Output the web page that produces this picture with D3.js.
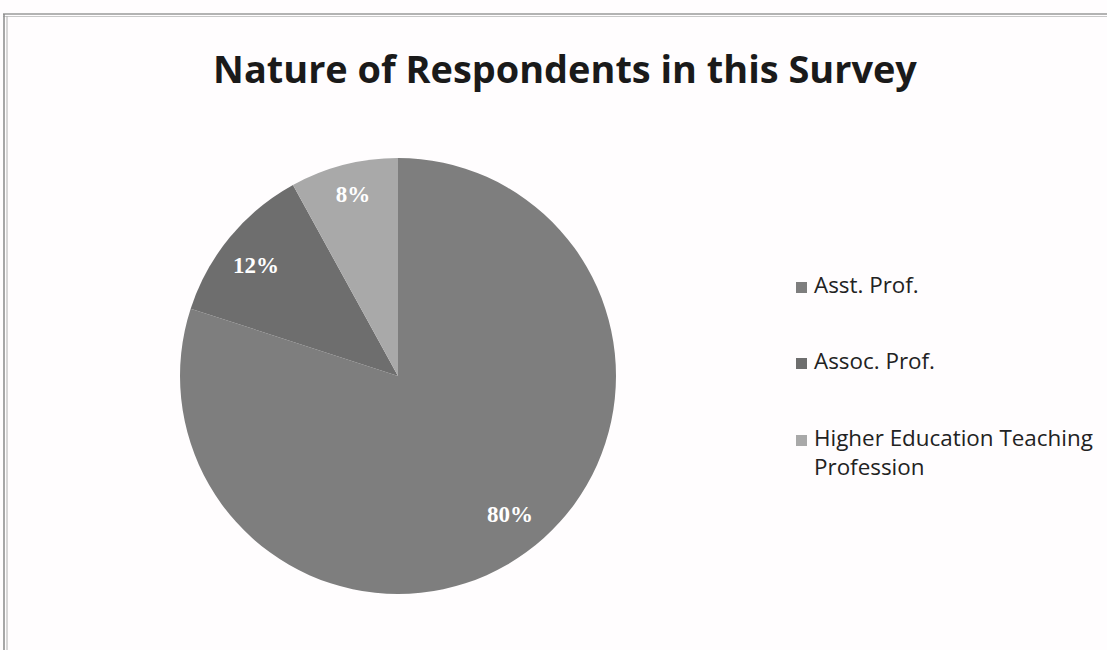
<!DOCTYPE html>
<html><head><meta charset="utf-8">
<script src="https://cdn.jsdelivr.net/npm/d3@7"></script>
<style>body{margin:0;background:#fff}svg{display:block}</style>
</head><body>
<svg id="c" width="1107" height="650"></svg>
<script>
const categories = ["Asst. Prof.", "Assoc. Prof.", "Higher Education Teaching Profession"];
const values = [80, 12, 8];
const labels = ["80%", "12%", "8%"];
const colors = ["#7e7e7e", "#6e6e6e", "#a9a9a9"];

const svg = d3.select("#c");
svg.append("rect").attr("width",1107).attr("height",650).attr("fill","#fffdfe");
// frame lines
svg.append("line").attr("x1",3).attr("x2",1107).attr("y1",14).attr("y2",14).attr("stroke","#9a9a9a").attr("stroke-width",1.5);
svg.append("line").attr("x1",3).attr("x2",1107).attr("y1",16.5).attr("y2",16.5).attr("stroke","#c8c8c8").attr("stroke-width",1);
svg.append("line").attr("x1",4).attr("x2",4).attr("y1",14).attr("y2",650).attr("stroke","#8a8a8a").attr("stroke-width",1.5);
svg.append("line").attr("x1",7).attr("x2",7).attr("y1",16).attr("y2",650).attr("stroke","#b0b0b0").attr("stroke-width",1);

function fit(t, target, base){
  const w = t.node().getComputedTextLength();
  t.attr("font-size", base*target/w);
}

const title = svg.append("text").attr("x",565).attr("y",83).attr("text-anchor","middle")
  .attr("font-family","'Open Sans', Lato, sans-serif").attr("font-weight","bold")
  .attr("font-size",35).attr("fill","#1a1a1a").text("Nature of Respondents in this Survey");
fit(title, 704, 35);

const cx = 398, cy = 376, r = 218;
const pie = d3.pie().sort(null).value(d=>d)(values);
const arc = d3.arc().innerRadius(0).outerRadius(r);
const g = svg.append("g").attr("transform",`translate(${cx},${cy})`);
g.selectAll("path").data(pie).join("path").attr("d",arc).attr("fill",(d,i)=>colors[i]);

const labelPos = [[112,141],[-142,-108],[-45,-179]];
g.selectAll("text").data(pie).join("text")
  .attr("x",(d,i)=>labelPos[i][0]).attr("y",(d,i)=>labelPos[i][1])
  .attr("text-anchor","middle").attr("dominant-baseline","middle")
  .attr("font-family","'Liberation Serif', 'DejaVu Serif', serif").attr("font-weight","bold")
  .attr("font-size",23).attr("fill","#ffffff").text((d,i)=>labels[i]);

const leg = svg.append("g");
const legY = [287, 363, 440];
let fs = 19;
categories.forEach((c,i)=>{
  leg.append("rect").attr("x",796).attr("y",legY[i]-5).attr("width",11).attr("height",11).attr("fill",colors[i]);
  const t = leg.append("text").attr("x",814).attr("y",legY[i]).attr("dominant-baseline","middle")
    .attr("font-family","'Open Sans', Lato, sans-serif").attr("font-size",fs).attr("fill","#222");
  if (i===2) {
    t.append("tspan").attr("x",814).text("Higher Education Teaching");
    t.append("tspan").attr("x",814).attr("dy",29).text("Profession");
  } else t.text(c);
});
// scale legend font so the longest line matches the reference width
const probe = leg.append("text").attr("font-family","'Open Sans', Lato, sans-serif").attr("font-size",19).text("Higher Education Teaching");
const pw = probe.node().getComputedTextLength(); probe.remove();
leg.selectAll("text").attr("font-size", 19*279/pw);
</script>
</body></html>
